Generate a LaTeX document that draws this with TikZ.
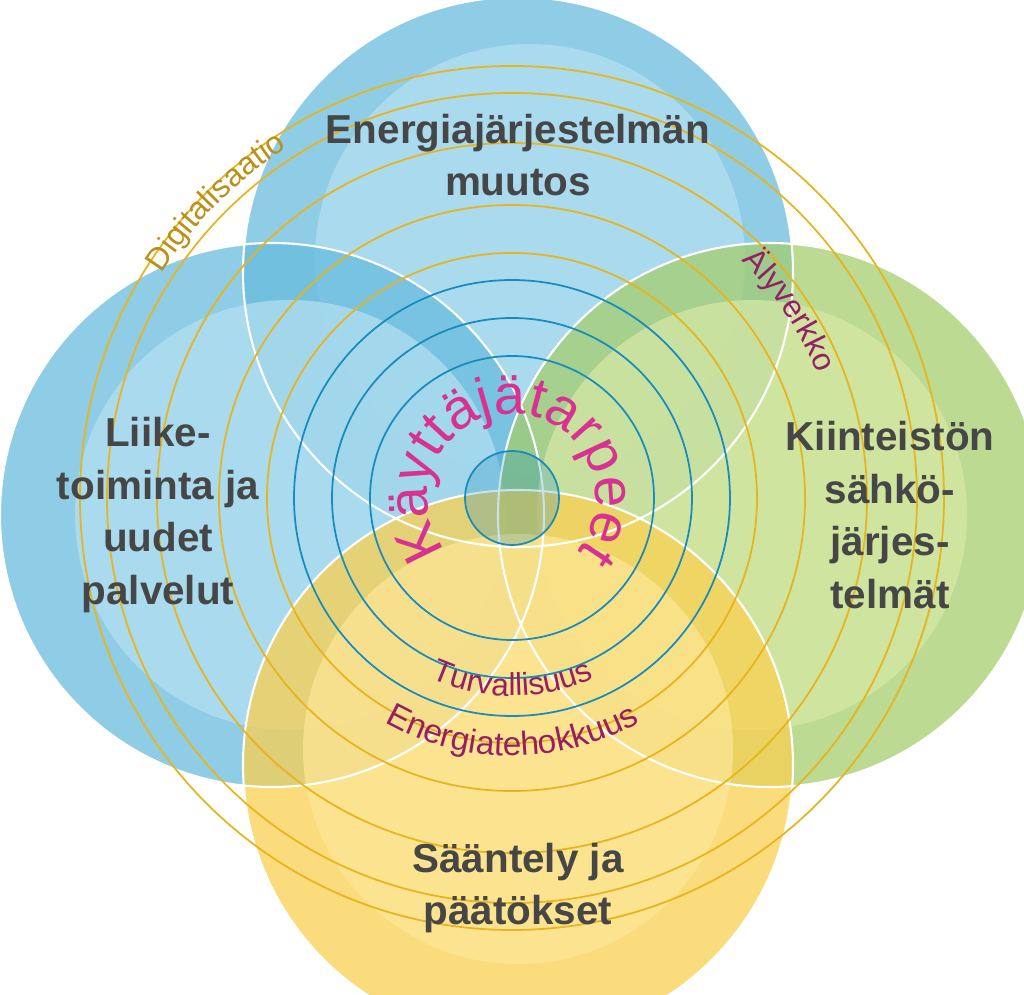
\documentclass[tikz,border=0pt]{standalone}
\usepackage{fontspec}
\setmainfont{Liberation Sans}
\usetikzlibrary{decorations.text}
\definecolor{blue-dark}{RGB}{105,188,222}
\definecolor{blue-light}{RGB}{178,222,240}
\definecolor{green-dark}{RGB}{165,205,110}
\definecolor{green-light}{RGB}{214,232,165}
\definecolor{yellow-dark}{RGB}{250,208,80}
\definecolor{yellow-light}{RGB}{253,230,150}
\definecolor{ring-yellow}{RGB}{232,180,30}
\definecolor{ring-blue}{RGB}{25,140,190}
\definecolor{text-gray}{RGB}{70,70,70}
\definecolor{pink}{RGB}{215,50,145}
\definecolor{plum}{RGB}{150,30,100}
\tikzset{
  topic/.style={font=\fontsize{23}{30}\selectfont\bfseries, text=text-gray, align=center},
  yring/.style={draw=ring-yellow, line width=1pt},
  bring/.style={draw=ring-blue, line width=1pt},
}
\begin{document}
\begin{tikzpicture}[x=0.02cm, y=0.02cm]
		\useasboundingbox (0,0) rectangle (1024,994);
		\clip (0,0) rectangle (1024,994);
		\coordinate (c) at (512,496);
		
		% Draw the four big circles
		\begin{scope}[fill opacity=0.75]
		\fill[blue-dark] (518,722) circle (275);
		\fill[blue-light] (530,735) circle (215);
		\fill[blue-dark] (272,479) circle (272);
		\fill[blue-light] (290,479) circle (215);
		\fill[green-dark] (770,479) circle (272);
		\fill[green-light] (752,479) circle (215);
		\fill[yellow-dark] (518,229) circle (275);
		\fill[yellow-light] (518,245) circle (215);
		\end{scope}
		\draw[white, line width=1.2pt] (518,722) circle (275) (272,479) circle (272)
		  (770,479) circle (272) (518,229) circle (275);
		
		% Draw the rings
		\foreach \r in {245,293,355,405,432} \draw[yring] (c) circle (\r);
		\foreach \r in {142,180,218} \draw[bring] (c) circle (\r);
		\draw[bring, fill=ring-blue, fill opacity=0.25] (c) circle (47);
		
		% Draw the topic labels
		\node (energy) [topic] at (518,839) {Energiajärjestelmän\\muutos};
		\node (business) [topic] at (158,479) {Liike-\\toiminta ja\\uudet\\palvelut};
		\node (building) [topic] at (890,479) {Kiinteistön\\sähkö-\\järjes-\\telmät};
		\node (regulation) [topic] at (518,106) {Sääntely ja\\päätökset};
		
		% Draw the curved labels
		\path[decorate, decoration={text along path, text align=center,
		  text={|\fontsize{32}{34}\selectfont\color{pink}|Käyttäjätarpeet}}]
		  (c) ++(215:84) arc[start angle=215, end angle=-35, radius=84];
		\path[decorate, decoration={text along path, text align=center,
		  text={|\fontsize{18}{20}\selectfont\color{ring-yellow!80!black}|Digitalisaatio}}]
		  (c) ++(155:416) arc[start angle=155, end angle=115, radius=416];
		\path[decorate, decoration={text along path, text align=center,
		  text={|\fontsize{18}{20}\selectfont\color{plum}|Älyverkko}}]
		  (c) ++(52:330) arc[start angle=52, end angle=16, radius=330];
		\path[decorate, decoration={text along path, text align=center,
		  text={|\fontsize{18}{20}\selectfont\color{plum}|Turvallisuus}}]
		  (c) ++(235:198) arc[start angle=235, end angle=305, radius=198];
		\path[decorate, decoration={text along path, text align=center,
		  text={|\fontsize{19}{20}\selectfont\color{plum}|Energiatehokkuus}}]
		  (c) ++(230:258) arc[start angle=230, end angle=310, radius=258];
\end{tikzpicture}
\end{document}
